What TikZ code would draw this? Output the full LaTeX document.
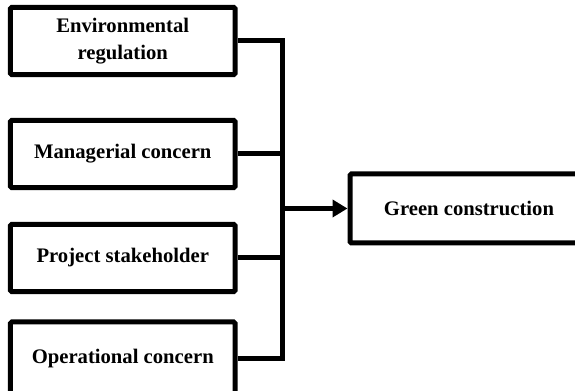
\documentclass[tikz,border=0pt]{standalone}
\usepackage{fontspec}
\setmainfont{Liberation Serif}
\usepackage{tikz}
\usetikzlibrary{arrows.meta,positioning}
\tikzset{>={Triangle[length=11.25pt,width=12.75pt]}}

\begin{document}
\begin{tikzpicture}[x=0.75pt,y=-0.75pt,
                    factor/.style={draw, line width=3.75pt, rounded corners=1pt,
                                   minimum width=168.4pt, minimum height=50.6pt,
                                   align=center, inner sep=0pt,
                                   font=\fontsize{15.5}{20}\selectfont\bfseries},
                    goal/.style={factor, minimum width=178.5pt, minimum height=51.75pt},
                    link/.style={line width=3.75pt},
                   ]

\useasboundingbox (0,0) rectangle (575,391);

\node[factor] (env)  at (122.75,41)  {Environmental\\regulation};
\node[factor] (mgr)  at (122.75,154) {Managerial concern};
\node[factor] (proj) at (122.75,258) {Project stakeholder};
\node[factor, minimum height=54.75pt] (ops) at (122.75,358.5) {Operational concern};

\node[goal] (green) at (469,208.5) {Green construction};

\coordinate (bus) at (282,208.5);

\draw[link] (env.east) -| (bus) |- (ops.east);
\draw[link] (mgr.east) -- (mgr.east -| bus);
\draw[link] (proj.east) -- (proj.east -| bus);
\draw[link,->] (bus) -- (green.west);

\end{tikzpicture}
\end{document}
